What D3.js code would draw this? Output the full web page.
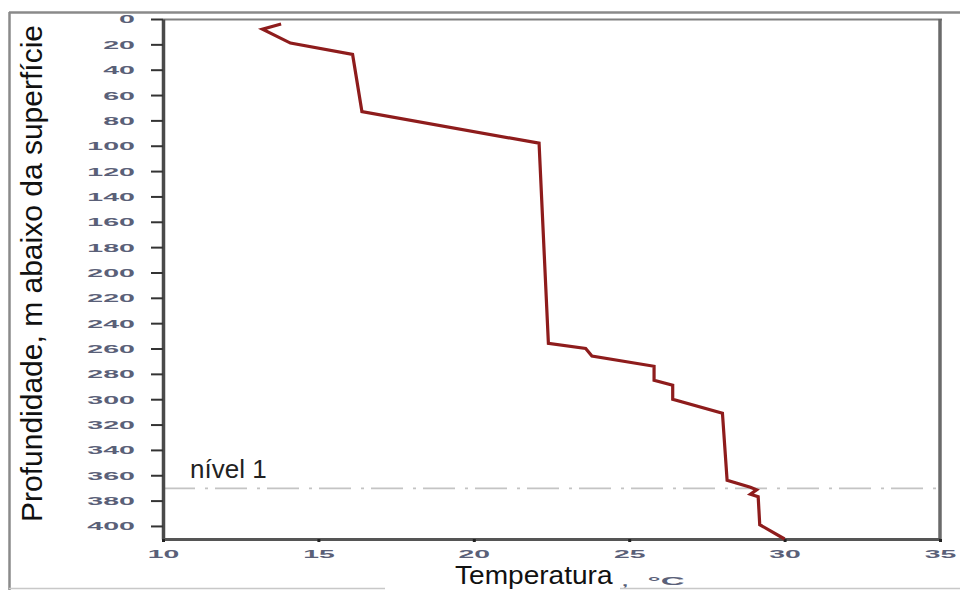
<!DOCTYPE html>
<html>
<head>
<meta charset="utf-8">
<script src="https://cdn.jsdelivr.net/npm/d3@7"></script>
<style>
  html, body { margin: 0; padding: 0; background: #fff; }
  svg { display: block; }
</style>
</head>
<body>
<svg id="chart" width="960" height="590"></svg>
<script>
// ---- data (temperature °C, depth m) ----
const temperature = [13.8, 13.2, 14.1, 16.1, 16.4, 22.1, 22.4, 23.6, 23.8, 25.8, 25.8, 26.4, 26.4, 28.0, 28.15, 28.9, 29.1, 28.9, 29.15, 29.2, 30.0];
const depth       = [4,    8,    19,   28,   73,   98,   256,  260,  266,  274,  285,  289,  300,  311,  364,   369.5, 371.5, 375, 377,  399,  410.3];
const xTicks = [10, 15, 20, 25, 30, 35];
const yTicks = [0, 20, 40, 60, 80, 100, 120, 140, 160, 180, 200, 220, 240, 260, 280, 300, 320, 340, 360, 380, 400];
const xDomain = [10, 35];
const yDomain = [0, 410.3];
const levelDepth = 370.3;
const levelLabel = "nível 1";
const xTitle = "Temperatura";
const xUnit = "°C";
const yTitle = "Profundidade, m abaixo da superfície";

(function () {
const svg = d3.select("#chart");
const FONT = "'Liberation Sans', Arial, sans-serif";
const pL = 163, pR = 940, pT = 19, pB = 539;

const x = d3.scaleLinear().domain(xDomain).range([pL, pR]);
const y = d3.scaleLinear().domain(yDomain).range([pT, pB]);

// outer frame
svg.append("line").attr("x1", 9).attr("x2", 960).attr("y1", 12.5).attr("y2", 12.5)
  .attr("stroke", "#8a8a8a").attr("stroke-width", 2.5);
svg.append("line").attr("x1", 9.5).attr("x2", 9.5).attr("y1", 12).attr("y2", 590)
  .attr("stroke", "#8a8a8a").attr("stroke-width", 2.5);
svg.append("line").attr("x1", 9).attr("x2", 385).attr("y1", 588.5).attr("y2", 588.5)
  .attr("stroke", "#c8c8c8").attr("stroke-width", 1.5);
svg.append("line").attr("x1", 620).attr("x2", 960).attr("y1", 588.5).attr("y2", 588.5)
  .attr("stroke", "#c8c8c8").attr("stroke-width", 1.5);

// plot frame top & right
svg.append("line").attr("x1", pL).attr("x2", pR + 2).attr("y1", 19.5).attr("y2", 19.5)
  .attr("stroke", "#808080").attr("stroke-width", 2);
svg.append("line").attr("x1", pR).attr("x2", pR).attr("y1", 19).attr("y2", pB + 1)
  .attr("stroke", "#6a6a6a").attr("stroke-width", 3.5);

// level reference line (dash-dot)
svg.append("line")
  .attr("x1", pL).attr("x2", pR)
  .attr("y1", y(levelDepth)).attr("y2", y(levelDepth))
  .attr("stroke", "#c4c4c4").attr("stroke-width", 1.8)
  .attr("stroke-dasharray", "32,10,3,7");

svg.append("text")
  .attr("x", 190).attr("y", 478)
  .attr("font-family", FONT).attr("font-size", 26).attr("fill", "#222")
  .text(levelLabel);

// axes
const SX = 2.6;
const tickFill = "#5a6078";

const yAxis = svg.append("g")
  .attr("transform", `translate(${pL},0)`)
  .call(d3.axisLeft(y).tickValues(yTicks).tickSize(12).tickSizeOuter(0));
yAxis.select(".domain").attr("stroke", "#4a4a4a").attr("stroke-width", 3.5);
yAxis.selectAll(".tick line").attr("stroke", "#333").attr("stroke-width", 2);
yAxis.selectAll(".tick text")
  .attr("x", -28 / SX).attr("dy", "0.36em")
  .attr("transform", `scale(${SX},1)`)
  .attr("font-family", FONT).attr("font-size", 11).attr("font-weight", "bold")
  .attr("fill", tickFill).attr("text-anchor", "end");

const xAxis = svg.append("g")
  .attr("transform", `translate(0,${pB})`)
  .call(d3.axisBottom(x).tickValues(xTicks).tickSize(3).tickSizeOuter(0));
xAxis.select(".domain").attr("stroke", "#555").attr("stroke-width", 3);
xAxis.selectAll(".tick line").attr("stroke", "#222").attr("stroke-width", 3);
xAxis.selectAll(".tick text")
  .attr("x", 0).attr("y", 19).attr("dy", 0)
  .attr("transform", `scale(${SX + 0.1},1)`)
  .attr("font-family", FONT).attr("font-size", 10.5).attr("font-weight", "bold")
  .attr("fill", tickFill).attr("text-anchor", "middle");

// profile line
const pts = temperature.map((t, i) => [t, depth[i]]);
svg.append("path")
  .datum(pts)
  .attr("d", d3.line().x(d => x(d[0])).y(d => y(d[1])))
  .attr("fill", "none")
  .attr("stroke", "#8e1c1c")
  .attr("stroke-width", 3.2)
  .attr("stroke-linejoin", "miter");

// titles
svg.append("text")
  .attr("transform", "translate(455,584) scale(1.08,1)")
  .attr("font-family", FONT).attr("font-size", 26).attr("fill", "#111")
  .text(xTitle);
svg.append("text")
  .attr("transform", `translate(625,586) scale(2,1)`)
  .attr("font-family", FONT).attr("font-size", 11).attr("font-weight", "bold")
  .attr("fill", tickFill).attr("text-anchor", "middle")
  .text(",");
svg.append("text")
  .attr("transform", `translate(666,585) scale(3,1)`)
  .attr("font-family", FONT).attr("font-size", 11).attr("font-weight", "bold")
  .attr("fill", tickFill).attr("text-anchor", "middle")
  .text(xUnit);

svg.append("text")
  .attr("transform", `translate(42,${(525 + 22) / 2}) rotate(-90)`)
  .attr("font-family", FONT).attr("font-size", 30).attr("fill", "#111")
  .attr("text-anchor", "middle")
  .text(yTitle);
})();
</script>
</body>
</html>
